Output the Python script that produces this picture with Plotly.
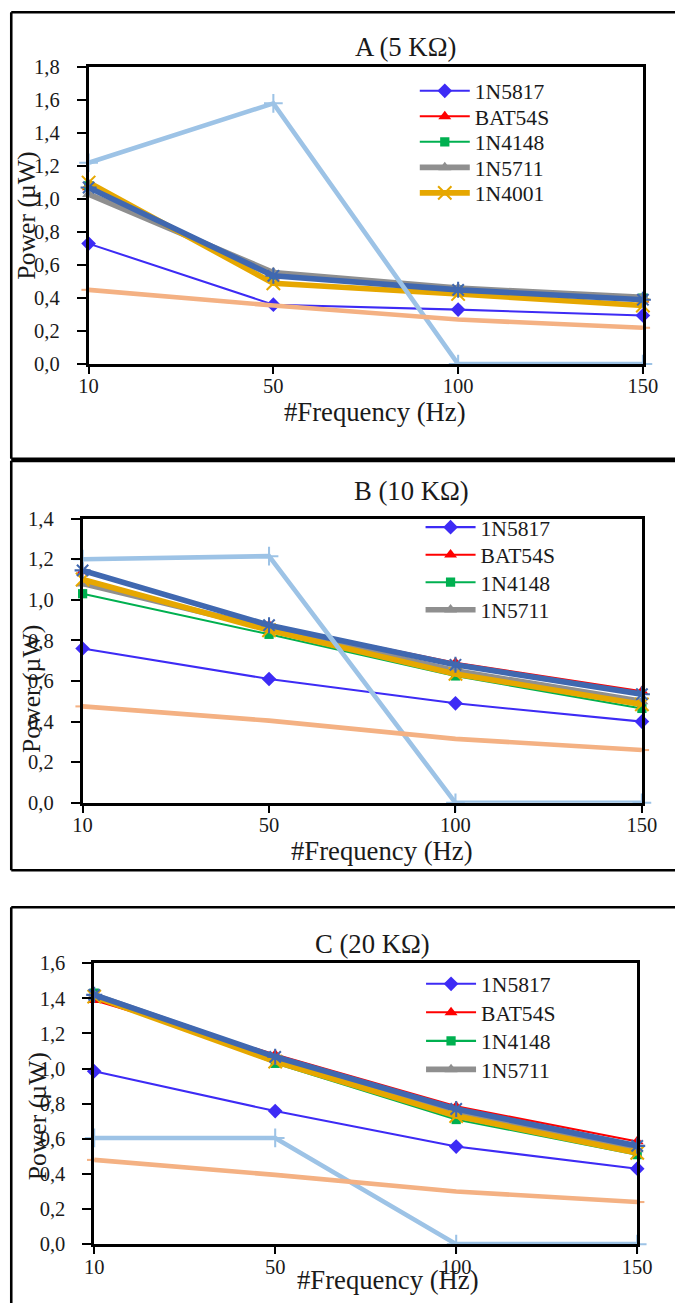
import plotly.graph_objects as go

# The page shows the figure shifted and slightly shrunk; figure geometry below is
# expressed in target picture pixels and mapped back through that measured view.
VIEW_OFF_X, VIEW_OFF_Y = 9.0, 10.5
VIEW_SX, VIEW_SY = 0.965, 0.9825
W = int(round((675 - VIEW_OFF_X) / VIEW_SX))
H = int(round((1303 - VIEW_OFF_Y) / VIEW_SY))
K = (1 / (VIEW_SX * VIEW_SY)) ** 0.5  # size factor for fonts / strokes

freqs = ["10", "50", "100", "150"]

series_names = ["1N5817", "BAT54S", "1N4148", "1N5711", "1N4001", "Series6", "Series7", "Series8"]

# Panel A (5 KΩ)
a_1n5817 = [0.73, 0.36, 0.33, 0.295]
a_bat54s = [1.07, 0.53, 0.45, 0.39]
a_1n4148 = [1.08, 0.54, 0.45, 0.40]
a_1n5711 = [1.03, 0.555, 0.46, 0.405]
a_1n4001 = [1.10, 0.49, 0.425, 0.355]
a_s6 = [1.07, 0.535, 0.45, 0.39]
a_s7 = [1.22, 1.58, 0.0, 0.0]
a_s8 = [0.45, 0.355, 0.27, 0.22]

# Panel B (10 KΩ)
b_1n5817 = [0.76, 0.61, 0.49, 0.40]
b_bat54s = [1.14, 0.875, 0.69, 0.55]
b_1n4148 = [1.03, 0.83, 0.625, 0.465]
b_1n5711 = [1.08, 0.86, 0.65, 0.50]
b_1n4001 = [1.10, 0.85, 0.635, 0.485]
b_s6 = [1.145, 0.875, 0.68, 0.535]
b_s7 = [1.20, 1.215, 0.0, 0.0]
b_s8 = [0.475, 0.405, 0.315, 0.26]

# Panel C (20 KΩ)
c_1n5817 = [0.985, 0.758, 0.556, 0.43]
c_bat54s = [1.39, 1.08, 0.785, 0.585]
c_1n4148 = [1.43, 1.03, 0.71, 0.51]
c_1n5711 = [1.42, 1.06, 0.75, 0.54]
c_1n4001 = [1.41, 1.04, 0.73, 0.52]
c_s6 = [1.42, 1.067, 0.77, 0.56]
c_s7 = [0.605, 0.605, 0.0, 0.0]
c_s8 = [0.48, 0.395, 0.30, 0.24]

panel_titles = ["A (5 KΩ)", "B (10 KΩ)", "C (20 KΩ)"]
y_maxes = [1.8, 1.4, 1.6]
legend_counts = [5, 4, 4]
panel_data = [
    [a_1n5817, a_bat54s, a_1n4148, a_1n5711, a_1n4001, a_s6, a_s7, a_s8],
    [b_1n5817, b_bat54s, b_1n4148, b_1n5711, b_1n4001, b_s6, b_s7, b_s8],
    [c_1n5817, c_bat54s, c_1n4148, c_1n5711, c_1n4001, c_s6, c_s7, c_s8],
]

styles = [
    dict(color="#3D2BF5", width=2, symbol="diamond", size=11, open=False),
    dict(color="#FF0000", width=2, symbol="triangle-up", size=11, open=False),
    dict(color="#00B050", width=2, symbol="square", size=9, open=False),
    dict(color="#8F8F8F", width=5.5, symbol="triangle-up", size=11, open=False),
    dict(color="#E6A700", width=5.5, symbol="x-thin-open", size=13, open=True),
    dict(color="#4068B0", width=5.5, symbol="asterisk-open", size=13, open=True),
    dict(color="#9DC3E6", width=4.5, symbol="cross-thin-open", size=13, open=True),
    dict(color="#F4B183", width=4.5, symbol="line-ew-open", size=10, open=True),
]

FONT = "Liberation Serif"
TXT = "#1a1a1a"

def fx(x):
    return (x - VIEW_OFF_X) / VIEW_SX

def fy(y):
    return (y - VIEW_OFF_Y) / VIEW_SY

def px_x(x):
    return fx(x) / W

def px_y(y):
    return 1 - fy(y) / H

def clamp_x(v):
    return min(max(v, 1.3 / W), 1.0)

def clamp_y(v):
    return min(max(v, 0.0), 1 - 1.3 / H)

# plot area target pixel boxes: (left, right, top, bottom)
boxes = [
    (87.7, 642.7, 66.5, 363.3),
    (81.7, 641.7, 517.7, 801.7),
    (93.3, 637.0, 962.0, 1242.7),
]
legend_x = [420, 426, 426.5]  # figure px
legend_rows = [
    [90.7, 116.2, 141.7, 167.2, 192.7],
    [526.7, 554.2, 581.7, 609.2],
    [983.0, 1011.5, 1040.0, 1068.5],
]
title_pos = [(405, 46), (411, 490), (372, 943)]
xtitle_pos = [(374, 411), (381, 850), (387, 1278)]
ytitle_pos = [(26, 215), (30, 688), (36, 1115)]
panel_frames = [(8, 458), (460, 869), (906, None)]
FRAME_LEFT = 7

fig = go.Figure()

layout = dict(
    width=W, height=H, autosize=False,
    margin=dict(l=0, r=0, t=0, b=0, pad=0),
    paper_bgcolor="white", plot_bgcolor="white",
    font=dict(family=FONT, color=TXT, size=round(20 * K, 1)),
    separators=", ",
    shapes=[], annotations=[],
)

leg_idx = 0
for p in range(3):
    xa = "x" if p == 0 else f"x{p+1}"
    ya = "y" if p == 0 else f"y{p+1}"
    for i, name in enumerate(series_names):
        st = styles[i]
        marker = dict(symbol=st["symbol"], size=st["size"] * K, color=st["color"])
        if st["open"]:
            marker["line"] = dict(color=st["color"], width=2 * K)
        show = i < legend_counts[p]
        kwargs = {}
        if show:
            leg_idx += 1
            key = "legend" if leg_idx == 1 else f"legend{leg_idx}"
            kwargs["legend"] = key
            layout[key] = dict(
                x=legend_x[p] / W, y=px_y(legend_rows[p][i]),
                xanchor="left", yanchor="middle",
                bgcolor="rgba(0,0,0,0)", borderwidth=0,
                font=dict(family=FONT, size=round(21 * K, 1), color=TXT),
                itemwidth=50,
            )
        fig.add_trace(go.Scatter(
            x=freqs, y=panel_data[p][i], name=name,
            mode="lines+markers",
            line=dict(color=st["color"], width=st["width"] * K),
            marker=marker,
            xaxis=xa, yaxis=ya,
            cliponaxis=False,
            showlegend=show,
            **kwargs,
        ))

FRAME = dict(color="black", width=2.5 * K)
for p in range(3):
    l, r, t, b = boxes[p]
    xk = "xaxis" if p == 0 else f"xaxis{p+1}"
    yk = "yaxis" if p == 0 else f"yaxis{p+1}"
    xa_anchor = "y" if p == 0 else f"y{p+1}"
    ya_anchor = "x" if p == 0 else f"x{p+1}"
    layout[xk] = dict(
        domain=[px_x(l), px_x(r)], anchor=xa_anchor, type="category",
        range=[0, 3], showgrid=False, zeroline=False,
        showline=True, mirror=True, linecolor="black", linewidth=2.5 * K,
        ticks="outside", ticklen=7, tickwidth=2, tickcolor="black",
        tickfont=dict(family=FONT, size=round(20 * K, 1), color=TXT),
        ticklabelstandoff=-5,
    )
    layout[yk] = dict(
        domain=[px_y(b), px_y(t)], anchor=ya_anchor,
        range=[0, y_maxes[p]], dtick=0.2, tick0=0, tickformat=".1f",
        showgrid=False, zeroline=False,
        showline=True, mirror=True, linecolor="black", linewidth=2.5 * K,
        ticks="outside", ticklen=9, tickwidth=2, tickcolor="black",
        tickfont=dict(family=FONT, size=round(20 * K, 1), color=TXT),
        ticklabelstandoff=13,
    )
    f0, f1 = panel_frames[p]
    y_top = clamp_y(px_y(f0))
    y_bot = clamp_y(px_y(f1)) if f1 is not None else 0.0
    x_left = clamp_x(px_x(FRAME_LEFT))
    layout["shapes"].append(dict(
        type="line", xref="paper", yref="paper",
        x0=x_left, x1=x_left, y0=y_bot, y1=y_top,
        line=FRAME, layer="below",
    ))
    layout["shapes"].append(dict(
        type="line", xref="paper", yref="paper",
        x0=x_left, x1=1.0, y0=y_top, y1=y_top,
        line=FRAME, layer="below",
    ))
    if f1 is not None:
        layout["shapes"].append(dict(
            type="line", xref="paper", yref="paper",
            x0=x_left, x1=1.0, y0=y_bot, y1=y_bot,
            line=FRAME, layer="below",
        ))
    tx, ty = title_pos[p]
    layout["annotations"].append(dict(
        text=panel_titles[p], xref="paper", yref="paper",
        x=px_x(tx), y=px_y(ty), xanchor="center", yanchor="middle",
        showarrow=False, font=dict(family=FONT, size=round(26 * K, 1), color=TXT),
    ))
    xx, xy = xtitle_pos[p]
    layout["annotations"].append(dict(
        text="#Frequency (Hz)", xref="paper", yref="paper",
        x=px_x(xx), y=px_y(xy), xanchor="center", yanchor="middle",
        showarrow=False, font=dict(family=FONT, size=round(26 * K, 1), color=TXT),
    ))
    yx, yy = ytitle_pos[p]
    layout["annotations"].append(dict(
        text="Power (µW)", xref="paper", yref="paper", textangle=-90,
        x=px_x(yx), y=px_y(yy), xanchor="center", yanchor="middle",
        showarrow=False, font=dict(family=FONT, size=round(25 * K, 1), color=TXT),
    ))

fig.update_layout(**layout)
fig.write_html("out.html", config={"displayModeBar": False})
